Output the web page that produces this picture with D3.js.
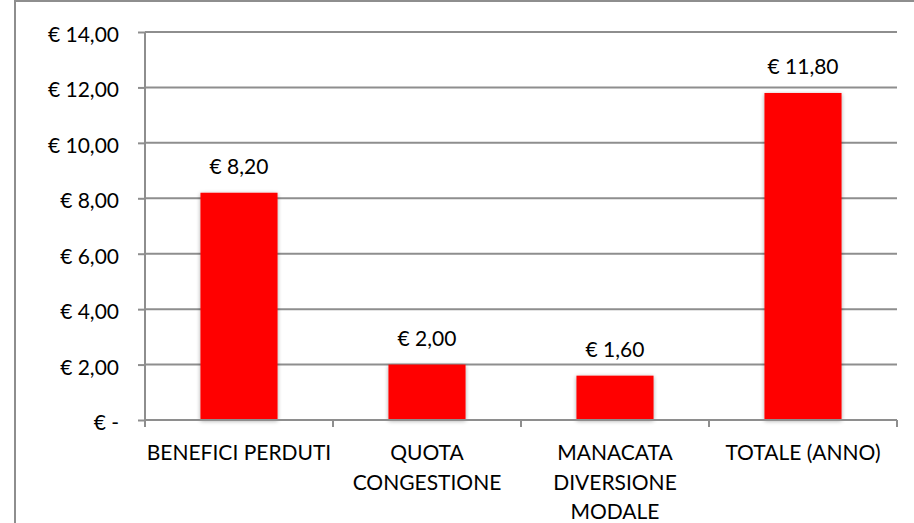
<!DOCTYPE html>
<html><head><meta charset="utf-8">
<script src="https://cdn.jsdelivr.net/npm/d3@7"></script>
<style>body{margin:0;background:#fff}svg{display:block}text{font-family:Lato,"Open Sans",sans-serif;fill:#000}</style>
</head><body><svg id="c" width="914" height="523"></svg>
<script>
const categories = [["BENEFICI PERDUTI"], ["QUOTA", "CONGESTIONE"], ["MANACATA", "DIVERSIONE", "MODALE"], ["TOTALE (ANNO)"]];
const values = [8.20, 2.00, 1.60, 11.80];
const valueLabels = ["€ 8,20", "€ 2,00", "€ 1,60", "€ 11,80"];
const yTicks = [0, 2, 4, 6, 8, 10, 12, 14];
const yTickLabels = ["€ -", "€ 2,00", "€ 4,00", "€ 6,00", "€ 8,00", "€ 10,00", "€ 12,00", "€ 14,00"];

const svg = d3.select("#c");
const W = 914, H = 523;
const m = {left: 145, right: 897, top: 32, bottom: 420};
const FS = 21;

// outer frame
svg.append("line").attr("x1", 15).attr("x2", 15).attr("y1", 0).attr("y2", H).attr("stroke", "#8e8e8e").attr("stroke-width", 2);
svg.append("line").attr("x1", 15).attr("x2", W).attr("y1", 1).attr("y2", 1).attr("stroke", "#8e8e8e").attr("stroke-width", 2);

const x = d3.scaleBand().domain(d3.range(values.length)).range([m.left, m.right]).paddingInner(0.59).paddingOuter(0.295);
const y = d3.scaleLinear().domain([0, 14]).range([m.bottom, m.top]);

const defs = svg.append("defs");
const f = defs.append("filter").attr("id", "sh").attr("x", "-20%").attr("y", "-20%").attr("width", "140%").attr("height", "140%");
f.append("feGaussianBlur").attr("in", "SourceAlpha").attr("stdDeviation", 2).attr("result", "b");
f.append("feOffset").attr("in", "b").attr("dx", 0).attr("dy", 1).attr("result", "o");
f.append("feComponentTransfer").attr("in", "o").attr("result", "t").append("feFuncA").attr("type", "linear").attr("slope", 0.35);
const mg = f.append("feMerge"); mg.append("feMergeNode").attr("in", "t"); mg.append("feMergeNode").attr("in", "SourceGraphic");

// gridlines
svg.append("g").selectAll("line").data(yTicks.filter(d => d > 0)).join("line")
  .attr("x1", m.left).attr("x2", m.right).attr("y1", d => y(d)).attr("y2", d => y(d))
  .attr("stroke", "#8e8e8e").attr("stroke-width", 2);

// y axis
const ya = svg.append("g").attr("transform", `translate(${m.left},0)`)
  .call(d3.axisLeft(y).tickValues(yTicks).tickSize(7).tickPadding(19).tickFormat((d, i) => yTickLabels[i]));
ya.select(".domain").attr("stroke", "#8e8e8e").attr("stroke-width", 2).attr("d", `M0,${m.top}V${m.bottom}`);
ya.selectAll(".tick line").attr("stroke", "#8e8e8e").attr("stroke-width", 2);
ya.selectAll(".tick text").attr("font-size", FS).attr("dy", "0.45em").attr("font-family", "Lato, 'Open Sans', sans-serif").attr("fill", "#000");

// bars
svg.append("g").selectAll("rect").data(values).join("rect")
  .attr("x", (d, i) => x(i)).attr("width", x.bandwidth())
  .attr("y", d => y(d)).attr("height", d => y(0) - y(d))
  .attr("fill", "#ff0000").attr("filter", "url(#sh)");

// x axis
const xs = d3.scaleLinear().domain([0, values.length]).range([m.left, m.right]);
const xa = svg.append("g").attr("transform", `translate(0,${m.bottom})`);
xa.append("line").attr("x1", m.left).attr("x2", m.right).attr("stroke", "#8e8e8e").attr("stroke-width", 2);
xa.selectAll("line.t").data(d3.range(values.length + 1)).join("line").attr("class", "t")
  .attr("x1", d => xs(d)).attr("x2", d => xs(d)).attr("y1", 0).attr("y2", 7)
  .attr("stroke", "#8e8e8e").attr("stroke-width", 2);

// category labels
const cl = svg.append("g").selectAll("text").data(categories).join("text")
  .attr("text-anchor", "middle").attr("font-size", FS)
  .attr("x", (d, i) => x(i) + x.bandwidth() / 2).attr("y", 460);
cl.selectAll("tspan").data(d => d).join("tspan")
  .attr("x", function() { return this.parentNode.getAttribute("x"); })
  .attr("dy", (d, i) => i ? 29.5 : 0).text(d => d);

// value labels
svg.append("g").selectAll("text").data(values).join("text")
  .attr("text-anchor", "middle").attr("font-size", FS)
  .attr("x", (d, i) => x(i) + x.bandwidth() / 2).attr("y", d => y(d) - 19)
  .text((d, i) => valueLabels[i]);
</script></body></html>
